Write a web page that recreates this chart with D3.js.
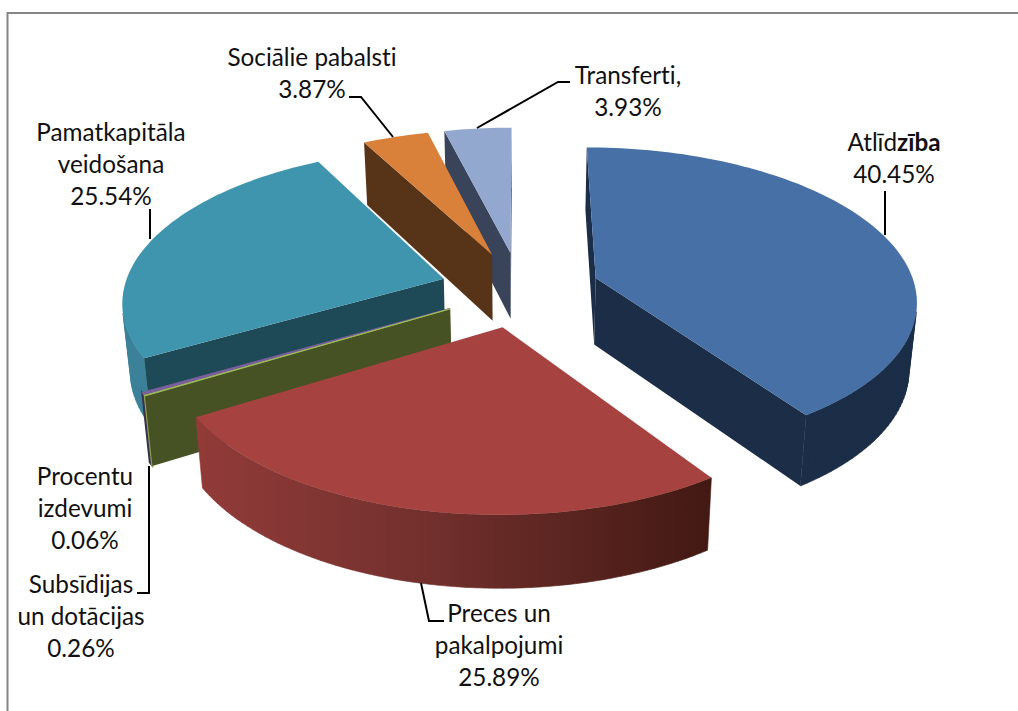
<!DOCTYPE html>
<html>
<head>
<meta charset="utf-8">
<script src="https://cdn.jsdelivr.net/npm/d3@7"></script>
<style>
  html, body { margin: 0; background: #fff; }
  svg { display: block; }
  text { font-family: Lato, "Open Sans", sans-serif; font-size: 24.3px; fill: #111; text-anchor: middle; font-variant-ligatures: none; }
</style>
</head>
<body>
<div id="chart"></div>
<script>
// chart values, clockwise from 12 o'clock
const categories = ["Atlīdzība", "Preces un pakalpojumi", "Procentu izdevumi", "Subsīdijas un dotācijas", "Pamatkapitāla veidošana", "Sociālie pabalsti", "Transferti"];
const values = [40.45, 25.89, 0.06, 0.26, 25.54, 3.87, 3.93];

const topColors = ["#4670a6", "#a64341", "#9bbb59", "#7b5f9c", "#3f95ae", "#d9803a", "#93a8cf"];
const wallColors = ["#1b2d47", "#451a14", "#465223", "#3d2f50", "#1e4957", "#573417", "#39435a"];
const rimColors = ["#1b2d47", "url(#redRim)", "#8ba34f", "#3d2f50", "#3a8199", "#573417", "#39435a"];

// each slice is pulled out by this much of the radius
const explode = 0.25;

const width = 1018,
  height = 711;

const svg = d3.select("#chart")
  .append("svg")
  .attr("width", width)
  .attr("height", height);

// the gray chart frame, right and bottom fall outside of the picture
svg.append("rect")
  .attr("x", 7.5).attr("y", 13)
  .attr("width", width + 20).attr("height", height + 20)
  .attr("fill", "none")
  .attr("stroke", "#868686")
  .attr("stroke-width", 2);

const redRim = svg.append("defs").append("linearGradient")
  .attr("id", "redRim")
  .attr("gradientUnits", "userSpaceOnUse")
  .attr("x1", 195).attr("x2", 710).attr("y1", 0).attr("y2", 0);
redRim.append("stop").attr("offset", 0).attr("stop-color", "#923b39");
redRim.append("stop").attr("offset", 0.45).attr("stop-color", "#72302d");
redRim.append("stop").attr("offset", 1).attr("stop-color", "#431913");

// unit disc to screen, with a bit of perspective towards the back
const x = d3.scaleLinear().domain([-1, 1]).range([520 - 320, 520 + 320]);
const y = d3.scaleLinear().domain([-1, 1]).range([289 - 151, 289 + 151]);
const persp = 0.135, depth = 67, shrink = 0.98;

function project(u, v, bottom) {
  const s = 1 / (1 - persp * v);
  let px = x(u * s), py = y(v * s);
  if (bottom) {
    px = x(0) + (px - x(0)) * shrink;
    py = py + depth * Math.sqrt(s);
  }
  return [px, py];
}

const pie = d3.pie().sort(null).startAngle(0).endAngle(2 * Math.PI);
const slices = pie(values).map((d, i) => {
  const mid = (d.startAngle + d.endAngle) / 2;
  return {
    i,
    a0: d.startAngle,
    a1: d.endAngle,
    ou: explode * Math.sin(mid),
    ov: -explode * Math.cos(mid)
  };
});

const line = d3.line();

function rimPoints(d, bottom) {
  const n = Math.max(2, Math.ceil((d.a1 - d.a0) * 40));
  return d3.range(n + 1).map(k => {
    const a = d.a0 + (d.a1 - d.a0) * k / n;
    return project(d.ou + Math.sin(a), d.ov - Math.cos(a), bottom);
  });
}

// back slices first
const order = slices.slice().sort((a, b) => a.ov - b.ov);

const g = svg.append("g");
order.forEach(d => {
  const top = rimPoints(d, false);
  const low = rimPoints(d, true);
  const apexT = project(d.ou, d.ov, false);
  const apexB = project(d.ou, d.ov, true);
  const thin = values[d.i] < 1; // the two slivers need a stroke to show at all

  // outer wall, small quads so the silhouette stays straight
  let rim = "";
  for (let k = 0; k < top.length - 1; k++) {
    const q = [top[k], top[k + 1], low[k + 1], low[k]];
    if (d3.polygonArea(q) > 0) rim += line(q) + "Z";
  }
  g.append("path")
    .attr("d", rim)
    .attr("fill", rimColors[d.i])
    .attr("stroke", rimColors[d.i])
    .attr("stroke-width", thin ? 1.5 : 0.6);

  // radial walls, only the ones turned to the viewer
  const w0 = [apexT, top[0], low[0], apexB];
  const w1 = [top[top.length - 1], apexT, apexB, low[low.length - 1]];
  [w0, w1].forEach(w => {
    if (d3.polygonArea(w) > 0) {
      g.append("path")
        .attr("d", line(w) + "Z")
        .attr("fill", wallColors[d.i]);
    }
  });

  // top face
  g.append("path")
    .attr("d", line([apexT].concat(top)) + "Z")
    .attr("fill", topColors[d.i])
    .attr("stroke", topColors[d.i])
    .attr("stroke-width", thin ? 1 : 0);
});

// labels: lines of text, centre x, first baseline
const labelLines = [
  ["Atlīd|zība", "40.45%"],
  ["Preces un", "pakalpojumi", "25.89%"],
  ["Procentu", "izdevumi", "0.06%"],
  ["Subsīdijas", "un dotācijas", "0.26%"],
  ["Pamatkapitāla", "veidošana", "25.54%"],
  ["Sociālie pabalsti", "3.87%"],
  ["Transferti,", "3.93%"]
];
const labelX = [894, 499, 85, 81, 111, 312, 628];
const labelY = [151, 622, 485, 593, 141, 66, 84];
const lineGap = 32;

// leader lines
const leaders = [
  [[885, 191], [885, 235]],
  [[421, 583], [429, 621], [444, 621]],
  [],
  [[149, 466], [149, 593], [137, 593]],
  [[150, 209], [150, 239]],
  [[349, 97], [361, 97], [393, 137]],
  [[477, 128], [558, 82], [570, 82]]
];

svg.append("g")
  .selectAll("path")
  .data(leaders.filter(d => d.length))
  .join("path")
  .attr("d", line)
  .attr("fill", "none")
  .attr("stroke", "#000")
  .attr("stroke-width", 2);

labelLines.forEach((lines, i) => {
  const t = svg.append("text")
    .attr("x", labelX[i])
    .attr("y", labelY[i]);
  lines.forEach((s, k) => {
    const parts = s.split("|");
    parts.forEach((p, j) => {
      const span = t.append("tspan").text(p);
      if (j === 0) span.attr("x", labelX[i]).attr("y", labelY[i] + k * lineGap);
      if (j === 1) span.attr("font-weight", "bold");
    });
  });
});
</script>
</body>
</html>
